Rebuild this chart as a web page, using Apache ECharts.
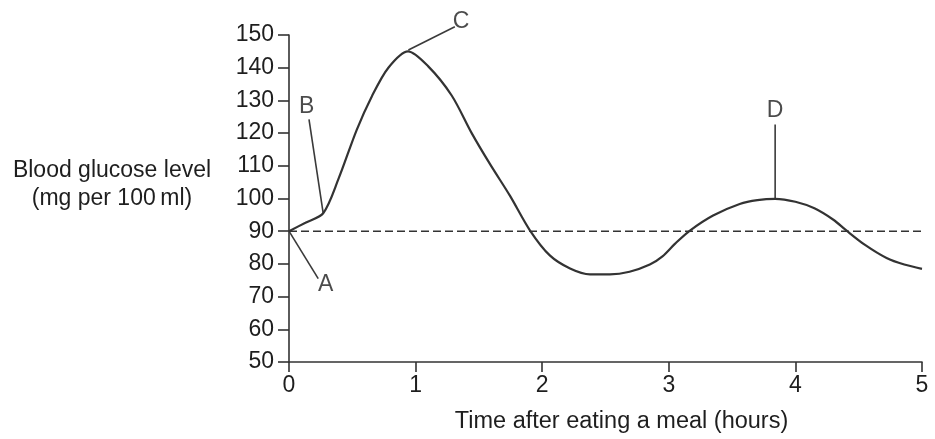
<!DOCTYPE html>
<html>
<head>
<meta charset="utf-8">
<script src="https://cdn.jsdelivr.net/npm/echarts@6/dist/echarts.min.js"></script>
<style>
html,body{margin:0;padding:0;background:#fff;}
#chart{width:935px;height:439px;}
</style>
</head>
<body>
<div id="chart"></div>
<script>
// Data
var hours = [0, 0.13, 0.27, 0.39, 0.535, 0.655, 0.785, 0.94, 1.1, 1.285, 1.443, 1.588, 1.746, 1.904, 2.06, 2.22, 2.377, 2.535, 2.69, 2.85, 2.95, 3.05, 3.167, 3.35, 3.56, 3.7, 3.84, 4.0, 4.15, 4.3, 4.4, 4.55, 4.72, 4.86, 5.0];
var glucose = [90, 92.6, 95.5, 105.9, 121, 131.3, 140, 145, 140.4, 131.5, 120, 110.5, 100.8, 90.2, 82.6, 78.6, 76.8, 76.8, 77.6, 79.8, 82.3, 86.2, 90.2, 94.8, 98.3, 99.5, 99.9, 99.0, 97.0, 93.5, 90.3, 85.8, 81.8, 79.8, 78.5];
var baselineX = [0, 5];
var baselineY = [90, 90];
var xTicks = ['0', '1', '2', '3', '4', '5'];
var yTicks = ['50', '60', '70', '80', '90', '100', '110', '120', '130', '140', '150'];
var letterNames = ['A', 'B', 'C', 'D'];
var letterX = [0.29, 0.14, 1.36, 3.84];
var letterY = [73.5, 128.2, 154, 127];
var leaderAX = [0, 0.231], leaderAY = [90, 75.5];
var leaderBX = [0.158, 0.27], leaderBY = [124.2, 95.5];
var leaderCX = [0.943, 1.31], leaderCY = [145.4, 152.5];
var leaderDX = [3.84, 3.84], leaderDY = [122.6, 100];
var yTitleLines = ['Blood glucose level', '(mg per 100\u2009ml)'];
var xTitle = 'Time after eating a meal (hours)';

function pairs(xs, ys) { return xs.map(function (x, i) { return [x, ys[i]]; }); }

var FONT = '"Liberation Sans", Arial, sans-serif';
var INK = '#1e1e1e';

function leader(xs, ys) {
  return {
    type: 'line', data: pairs(xs, ys), symbol: 'none', clip: false, silent: true,
    lineStyle: { color: '#3a3a3a', width: 1.6 }, z: 3
  };
}

var chart = echarts.init(document.getElementById('chart'), null, { renderer: 'canvas' });
chart.setOption({
  animation: false,
  backgroundColor: '#fff',
  grid: { left: 289, right: 13, top: 35, bottom: 75, containLabel: false },
  xAxis: {
    type: 'value', min: 0, max: 5, interval: 1,
    name: xTitle, nameLocation: 'middle', nameGap: 48,
    nameTextStyle: { fontFamily: FONT, fontSize: 23.5, color: INK, padding: [0, 0, 0, 32] },
    axisLine: { show: true, onZero: false, lineStyle: { color: '#333', width: 1.6 } },
    axisTick: { show: true, length: 10, lineStyle: { color: '#333', width: 1.6 } },
    axisLabel: {
      margin: 12, fontFamily: FONT, fontSize: 23, color: INK,
      formatter: function (v) { return xTicks[Math.round(v)]; }
    },
    splitLine: { show: false }
  },
  yAxis: {
    type: 'value', min: 50, max: 150, interval: 10,
    axisLine: { show: true, onZero: false, lineStyle: { color: '#333', width: 1.6 } },
    axisTick: { show: true, length: 11, lineStyle: { color: '#333', width: 1.6 } },
    axisLabel: {
      margin: 15, fontFamily: FONT, fontSize: 23, color: INK,
      formatter: function (v) { return yTicks[Math.round((v - 50) / 10)]; }
    },
    splitLine: { show: false }
  },
  graphic: [
    { type: 'text', x: 112, y: 171,
      style: { text: yTitleLines[0], font: '23px "Liberation Sans", Arial, sans-serif', fill: INK, align: 'center', textAlign: 'center', verticalAlign: 'middle', textVerticalAlign: 'middle' } },
    { type: 'text', x: 112, y: 199,
      style: { text: yTitleLines[1], font: '23px "Liberation Sans", Arial, sans-serif', fill: INK, align: 'center', textAlign: 'center', verticalAlign: 'middle', textVerticalAlign: 'middle' } }
  ],
  series: [
    {
      type: 'line', data: pairs(baselineX, baselineY), symbol: 'none', silent: true,
      lineStyle: { color: '#333', width: 1.5, type: [8, 4] }, z: 1
    },
    {
      type: 'line', data: pairs(hours, glucose), symbol: 'none', smooth: 0.3,
      lineStyle: { color: '#333', width: 2.2 }, z: 4
    },
    leader(leaderAX, leaderAY),
    leader(leaderBX, leaderBY),
    leader(leaderCX, leaderCY),
    leader(leaderDX, leaderDY),
    {
      type: 'scatter', symbolSize: 0, clip: false, silent: true,
      data: letterNames.map(function (n, i) { return { name: n, value: [letterX[i], letterY[i]] }; }),
      label: {
        show: true, position: 'inside', formatter: '{b}',
        fontFamily: FONT, fontSize: 23, color: INK
      }, z: 5
    }
  ]
});
</script>
</body>
</html>
